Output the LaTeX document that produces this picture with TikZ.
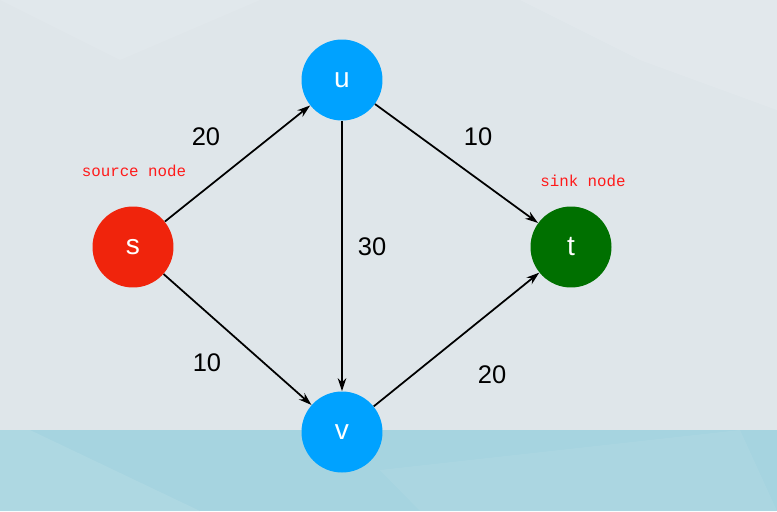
\documentclass[tikz,border=0pt]{standalone}
\usepackage{fontspec}
\setmainfont{Liberation Sans}
\newfontfamily\labelmono{Liberation Mono}
\usetikzlibrary{arrows.meta,calc,positioning}
\definecolor{FlowBack}{HTML}{DFE6EA}
\definecolor{FlowBackLight}{HTML}{E4EAEE}
\definecolor{FlowStrip}{HTML}{A6D4E0}
\definecolor{FlowStripLight}{HTML}{B4DBE4}
\definecolor{FlowBlue}{HTML}{00A2FF}
\definecolor{FlowRed}{HTML}{F0240C}
\definecolor{FlowGreen}{HTML}{007000}
\definecolor{FlowNote}{HTML}{FF1A1A}
\tikzset{
  vertex/.style={circle, inner sep=0pt, minimum size=1.62cm, text=white, font=\fontsize{16}{16}\selectfont},
  capacity/.style={font=\fontsize{14.5}{14.5}\selectfont, text=black},
  note/.style={font=\labelmono\fontsize{9}{9}\selectfont, text=FlowNote},
  edge/.style={-{Stealth[length=2.6mm,width=1.7mm]}, draw=black, line width=1pt},
}
\begin{document}
\begin{tikzpicture}[x=0.02cm, y=-0.02cm]
  % Background
  \fill[FlowBack] (0,0) rectangle (777,511);
  \fill[FlowBackLight, opacity=0.7] (520,0) -- (777,0) -- (777,110) -- (640,60) -- cycle;
  \fill[FlowBackLight, opacity=0.5] (0,0) -- (260,0) -- (120,60) -- cycle;
  \fill[FlowStrip] (0,430) rectangle (777,511);
  \fill[FlowStripLight, opacity=0.6] (0,430) -- (30,430) -- (200,511) -- (0,511) -- cycle;
  \fill[FlowStripLight, opacity=0.4] (380,470) -- (740,430) -- (777,511) -- (420,511) -- cycle;
  \useasboundingbox (0,0) rectangle (777,511);
  % Vertices
  \node[vertex, fill=FlowRed] (s) at (133,247) {s};
  \node[vertex, fill=FlowBlue] (u) at (342,80) {u};
  \node[vertex, fill=FlowBlue] (v) at (342,432) {v};
  \node[vertex, fill=FlowGreen] (t) at (571,247) {t};
  % Edges
  \draw[edge] (s) -- (u);
  \draw[edge] (s) -- (v);
  \draw[edge] (u) -- (v);
  \draw[edge] (u) -- (t);
  \draw[edge] (v) -- (t);
  % Capacities
  \node[capacity] (c-su) at (206,137) {20};
  \node[capacity] (c-ut) at (478,137) {10};
  \node[capacity] (c-uv) at (372,247) {30};
  \node[capacity] (c-sv) at (207,363) {10};
  \node[capacity] (c-vt) at (492,375) {20};
  % Notes
  \node[note] (n-source) at (134,171) {source node};
  \node[note] (n-sink) at (583,181) {sink node};
\end{tikzpicture}
\end{document}
